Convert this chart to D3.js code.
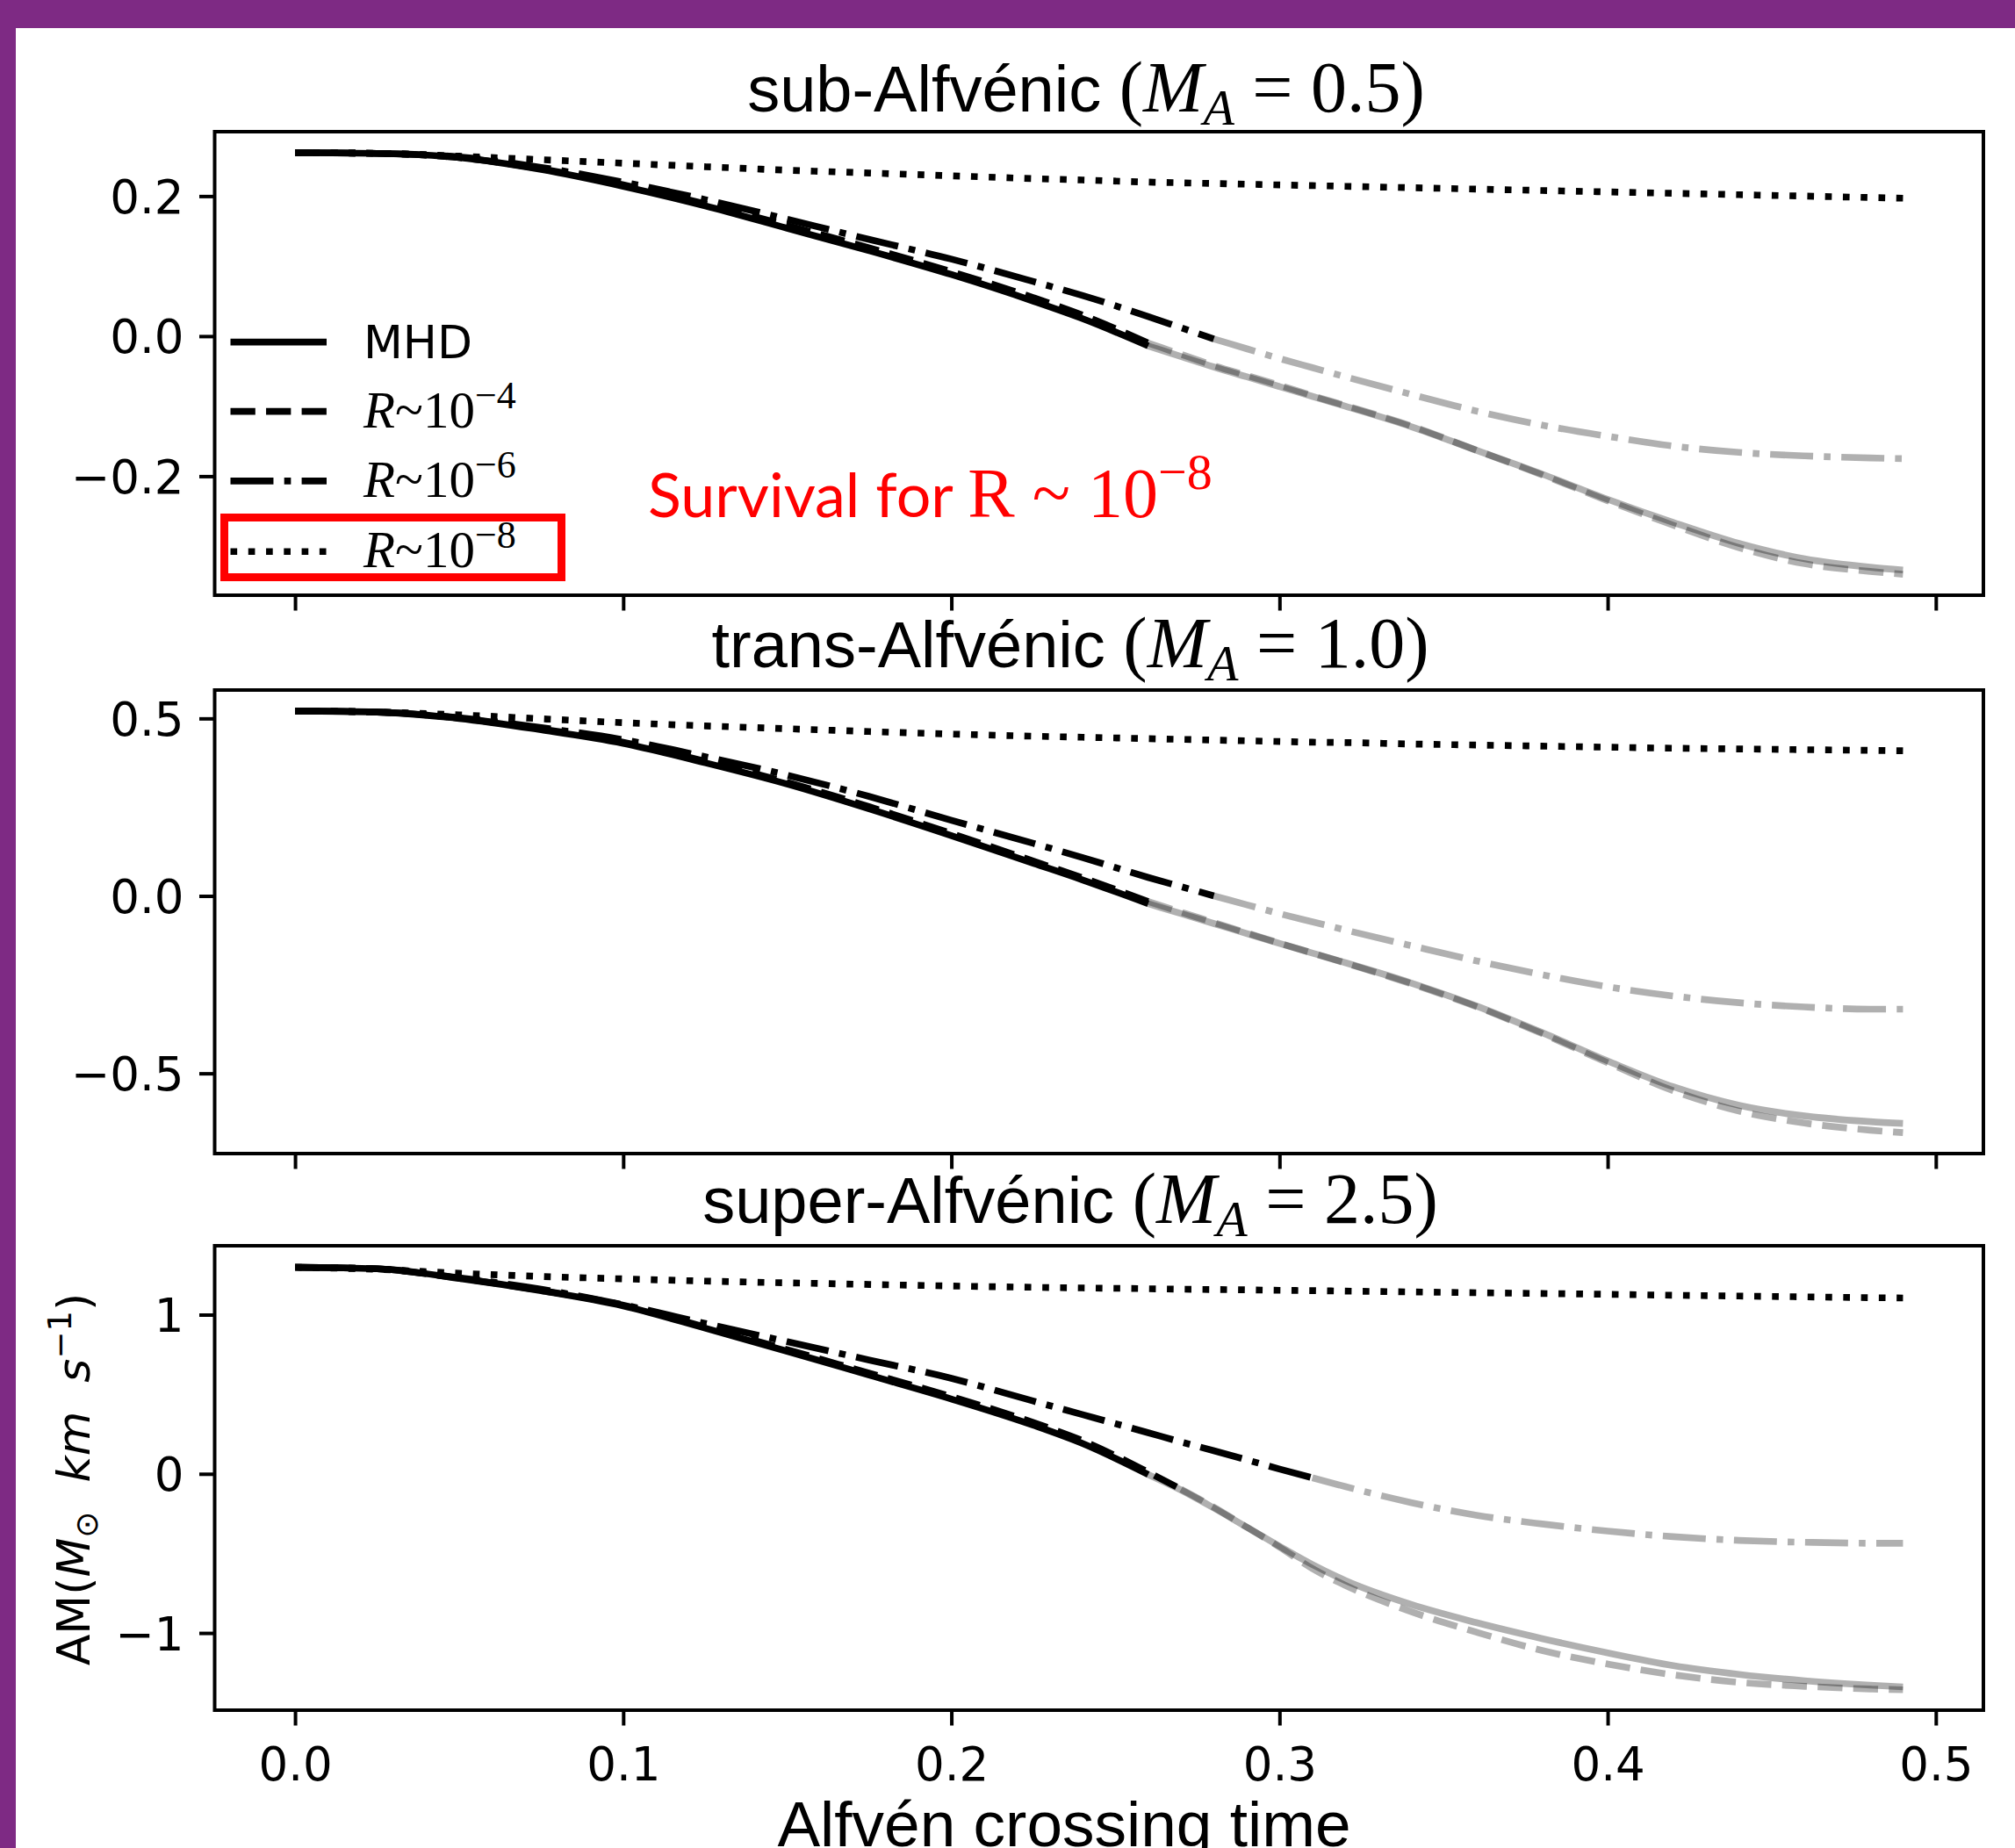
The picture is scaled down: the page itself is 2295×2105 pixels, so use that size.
<!DOCTYPE html>
<html>
<head>
<meta charset="utf-8">
<script src="https://cdnjs.cloudflare.com/ajax/libs/d3/7.8.5/d3.min.js"></script>
<style>
	body { margin: 0; background: #fff; }
	svg { display: block; }
	text { white-space: pre; }
	.tick text { font-family: "DejaVu Sans", sans-serif; font-size: 53px; fill: #000; }
	.tick line { stroke: #000; stroke-width: 4px; }
</style>
</head>
<body>
<div id="chart"></div>
<script>

///////////////////////////////////////////////////////////////////////////
//////////////////////////////// The data /////////////////////////////////
///////////////////////////////////////////////////////////////////////////

//Alfvén crossing time at which every run was sampled
var timeSteps = [0, 0.025, 0.05, 0.075, 0.10, 0.125, 0.15, 0.175, 0.20, 0.225, 0.24, 0.26, 0.27,
	0.28, 0.29, 0.30, 0.31, 0.32, 0.34, 0.36, 0.38, 0.40, 0.42, 0.44, 0.46, 0.48, 0.49];

//sub-Alfvénic (M_A = 0.5)
var subMHD = [0.262, 0.261, 0.255, 0.238, 0.214, 0.186, 0.154, 0.122, 0.088, 0.050, 0.025, -0.014, -0.029,
	-0.044, -0.058, -0.072, -0.086, -0.100, -0.129, -0.163, -0.197, -0.233, -0.266, -0.296, -0.318, -0.330, -0.334];
var subR4 = [0.262, 0.261, 0.255, 0.239, 0.216, 0.189, 0.158, 0.126, 0.092, 0.055, 0.030, -0.010, -0.026,
	-0.042, -0.056, -0.070, -0.085, -0.099, -0.128, -0.163, -0.198, -0.235, -0.270, -0.302, -0.325, -0.336, -0.340];
var subR6 = [0.262, 0.261, 0.256, 0.241, 0.220, 0.195, 0.167, 0.138, 0.110, 0.078, 0.058, 0.028, 0.012,
	-0.004, -0.018, -0.032, -0.045, -0.058, -0.083, -0.107, -0.127, -0.143, -0.157, -0.166, -0.171, -0.174, -0.175];
var subR8 = [0.262, 0.261, 0.257, 0.252, 0.247, 0.242, 0.237, 0.233, 0.229, 0.225, 0.223, 0.220, 0.219,
	0.218, 0.217, 0.216, 0.215, 0.214, 0.212, 0.210, 0.208, 0.206, 0.204, 0.202, 0.200, 0.198, 0.197];

//trans-Alfvénic (M_A = 1.0)
var transMHD = [0.521, 0.518, 0.500, 0.468, 0.430, 0.375, 0.315, 0.245, 0.170, 0.092, 0.045, -0.022, -0.050,
	-0.078, -0.106, -0.134, -0.161, -0.188, -0.245, -0.310, -0.385, -0.465, -0.538, -0.590, -0.620, -0.636, -0.641];
var transR4 = [0.521, 0.518, 0.501, 0.470, 0.433, 0.379, 0.320, 0.251, 0.176, 0.098, 0.051, -0.016, -0.046,
	-0.075, -0.104, -0.133, -0.161, -0.189, -0.247, -0.312, -0.388, -0.470, -0.549, -0.606, -0.640, -0.660, -0.667];
var transR6 = [0.521, 0.518, 0.502, 0.474, 0.440, 0.392, 0.340, 0.280, 0.213, 0.148, 0.108, 0.052, 0.026,
	0.000, -0.025, -0.050, -0.073, -0.096, -0.140, -0.183, -0.222, -0.256, -0.282, -0.301, -0.313, -0.319, -0.319];
var transR8 = [0.521, 0.518, 0.510, 0.499, 0.488, 0.479, 0.471, 0.463, 0.456, 0.450, 0.447, 0.443, 0.441,
	0.439, 0.437, 0.435, 0.433, 0.432, 0.428, 0.425, 0.422, 0.419, 0.416, 0.414, 0.412, 0.410, 0.409];

//super-Alfvénic (M_A = 2.5)
var superMHD = [1.298, 1.288, 1.228, 1.150, 1.055, 0.915, 0.770, 0.620, 0.470, 0.305, 0.190, -0.005, -0.102,
	-0.215, -0.335, -0.455, -0.570, -0.670, -0.820, -0.935, -1.035, -1.125, -1.205, -1.260, -1.300, -1.328, -1.339];
var superR4 = [1.298, 1.288, 1.229, 1.152, 1.060, 0.922, 0.780, 0.632, 0.485, 0.322, 0.208, 0.010, -0.097,
	-0.210, -0.335, -0.460, -0.595, -0.700, -0.865, -0.995, -1.110, -1.195, -1.263, -1.310, -1.335, -1.352, -1.357];
var superR6 = [1.298, 1.288, 1.232, 1.160, 1.062, 0.945, 0.830, 0.715, 0.600, 0.457, 0.372, 0.258, 0.200,
	0.145, 0.088, 0.030, -0.025, -0.080, -0.180, -0.260, -0.315, -0.360, -0.395, -0.418, -0.430, -0.436, -0.436];
var superR8 = [1.298, 1.285, 1.260, 1.240, 1.225, 1.211, 1.200, 1.190, 1.180, 1.172, 1.168, 1.163, 1.160,
	1.158, 1.156, 1.153, 1.151, 1.148, 1.143, 1.138, 1.133, 1.128, 1.122, 1.117, 1.112, 1.107, 1.105];

//Time after which each run is drawn faded (MHD, R~1e-4, R~1e-6, R~1e-8 never fades)
var cutSub = [0.26, 0.26, 0.28, 1];
var cutTrans = [0.26, 0.26, 0.28, 1];
var cutSuper = [0.26, 0.27, 0.31, 1];

var panelNames = ["sub-Alfvénic ", "trans-Alfvénic ", "super-Alfvénic "];
var machNumbers = ["0.5", "1.0", "2.5"];
var seriesNames = ["MHD", "R", "R", "R"];
var seriesExponents = ["", "−4", "−6", "−8"];

var xTickValues = [0, 0.1, 0.2, 0.3, 0.4, 0.5];
var xTickLabels = ["0.0", "0.1", "0.2", "0.3", "0.4", "0.5"];
var yTickValues = [[-0.2, 0, 0.2], [-0.5, 0, 0.5], [-1, 0, 1]];
var yTickLabels = [["−0.2", "0.0", "0.2"], ["−0.5", "0.0", "0.5"], ["−1", "0", "1"]];

///////////////////////////////////////////////////////////////////////////
//////////////////////////// Set up the SVG ///////////////////////////////
///////////////////////////////////////////////////////////////////////////

var width = 2295,
	height = 2105;

var svg = d3.select("#chart").append("svg")
	.attr("width", width)
	.attr("height", height);

svg.append("rect").attr("width", width).attr("height", height).style("fill", "#fff");

//purple slide border
svg.append("rect").attr("x", 0).attr("y", 0).attr("width", width).attr("height", 32).style("fill", "#7e2a84");
svg.append("rect").attr("x", 0).attr("y", 0).attr("width", 18).attr("height", height).style("fill", "#7e2a84");

var plotLeft = 244.5,
	plotRight = 2259;

var xScale = d3.scaleLinear()
	.domain([-0.0245, 0.5145])
	.range([plotLeft, plotRight]);

var lw = 7.65;
var dashes = [null, [3.7 * lw, 1.6 * lw], [6.4 * lw, 1.6 * lw, lw, 1.6 * lw], [lw, 1.65 * lw]];

var panels = [
	{ series: [subMHD, subR4, subR6, subR8], cuts: cutSub, domain: [-0.370, 0.292], top: 150, bottom: 678, titleX: 1237, titleY: 127 },
	{ series: [transMHD, transR4, transR6, transR8], cuts: cutTrans, domain: [-0.726, 0.580], top: 786, bottom: 1314, titleX: 1219, titleY: 760 },
	{ series: [superMHD, superR4, superR6, superR8], cuts: cutSuper, domain: [-1.485, 1.433], top: 1419, bottom: 1948, titleX: 1219, titleY: 1393 }
];

///////////////////////////////////////////////////////////////////////////
///////////////////////////// Draw the panels /////////////////////////////
///////////////////////////////////////////////////////////////////////////

panels.forEach(function(p, pi) {

	var yScale = d3.scaleLinear()
		.domain(p.domain)
		.range([p.bottom, p.top]);

	var line = d3.line()
		.x(function(d) { return xScale(d.t); })
		.y(function(d) { return yScale(d.v); })
		.curve(d3.curveMonotoneX);

	var g = svg.append("g").attr("class", "panel");

	//faded part first, black part on top
	p.series.forEach(function(vals, si) {
		var pts = timeSteps.map(function(t, i) { return { t: t, v: vals[i] }; });
		var cut = p.cuts[si];
		var faded = pts.filter(function(d) { return d.t >= cut - 1e-9; });
		var early = pts.filter(function(d) { return d.t <= cut + 1e-9; });

		if (faded.length > 1) {
			g.append("path")
				.attr("d", line(faded))
				.style("fill", "none")
				.style("stroke", "#000")
				.style("stroke-opacity", 0.31)
				.style("stroke-width", lw)
				.style("stroke-dasharray", dashes[si] ? dashes[si].join(",") : null);
		}
		g.append("path")
			.datum(early)
			.attr("d", line)
			.style("fill", "none")
			.style("stroke", "#000")
			.style("stroke-width", lw)
			.style("stroke-linejoin", "round")
			.style("stroke-dasharray", dashes[si] ? dashes[si].join(",") : null);
	});

	//axes
	svg.append("g")
		.attr("transform", "translate(" + plotLeft + ",0)")
		.call(d3.axisLeft(yScale)
			.tickValues(yTickValues[pi])
			.tickFormat(function(d, i) { return yTickLabels[pi][i]; })
			.tickSize(17.5).tickPadding(17.5).tickSizeOuter(0))
		.call(function(a) { a.select(".domain").remove(); })
		.selectAll("text").attr("dy", "0.36em");

	var xAxis = svg.append("g")
		.attr("transform", "translate(0," + p.bottom + ")")
		.call(d3.axisBottom(xScale)
			.tickValues(xTickValues)
			.tickFormat(function(d, i) { return pi === 2 ? xTickLabels[i] : ""; })
			.tickSize(17.5).tickPadding(17.5).tickSizeOuter(0))
		.call(function(a) { a.select(".domain").remove(); });
	xAxis.selectAll("text").attr("dy", "0.84em");

	//frame
	svg.append("rect")
		.attr("x", plotLeft)
		.attr("y", p.top)
		.attr("width", plotRight - plotLeft)
		.attr("height", p.bottom - p.top)
		.style("fill", "none")
		.style("stroke", "#000")
		.style("stroke-width", 4);

	//title
	var title = svg.append("text")
		.attr("x", p.titleX)
		.attr("y", p.titleY)
		.attr("text-anchor", "middle")
		.style("font-size", "74px")
		.style("fill", "#000");
	title.append("tspan").style("font-family", "Liberation Sans, Arial, sans-serif").text(panelNames[pi]);
	title.append("tspan").style("font-family", "Liberation Serif, serif").style("font-size", "82px").text("(");
	title.append("tspan").style("font-family", "Liberation Serif, serif").style("font-style", "italic")
		.style("font-size", "82px").text("M");
	title.append("tspan").style("font-family", "Liberation Serif, serif").style("font-style", "italic")
		.style("font-size", "58px").attr("dy", 15).text("A");
	title.append("tspan").style("font-family", "Liberation Serif, serif").style("font-size", "82px").attr("dy", -15)
		.text(" = " + machNumbers[pi] + ")");
});

///////////////////////////////////////////////////////////////////////////
/////////////////////////////// Axis labels ///////////////////////////////
///////////////////////////////////////////////////////////////////////////

svg.append("text")
	.attr("x", 1212)
	.attr("y", 2103)
	.attr("text-anchor", "middle")
	.style("font-family", "Liberation Sans, Arial, sans-serif")
	.style("font-size", "73px")
	.text("Alfvén crossing time");

var yLabel = svg.append("text")
	.attr("transform", "translate(102,1685) rotate(-90)")
	.attr("text-anchor", "middle")
	.style("font-family", "DejaVu Sans, sans-serif")
	.style("font-size", "52px");
yLabel.append("tspan").text("AM(");
yLabel.append("tspan").style("font-style", "italic").text("M");
yLabel.append("tspan").style("font-size", "36px").attr("dy", 9).text("⊙");
yLabel.append("tspan").style("font-style", "italic").attr("dy", -9).text("  km  s");
yLabel.append("tspan").style("font-size", "37px").attr("dy", -21).text("−1");
yLabel.append("tspan").attr("dy", 21).text(")");

///////////////////////////////////////////////////////////////////////////
///////////////////////////////// Legend //////////////////////////////////
///////////////////////////////////////////////////////////////////////////

var legendRowY = [389.6, 468.6, 547.9, 628.2];

var legend = svg.append("g").attr("class", "legend");

legend.selectAll(".legend-line")
	.data(seriesNames)
	.enter().append("line")
	.attr("class", "legend-line")
	.attr("x1", 262.5)
	.attr("x2", 372)
	.attr("y1", function(d, i) { return legendRowY[i]; })
	.attr("y2", function(d, i) { return legendRowY[i]; })
	.style("stroke", "#000")
	.style("stroke-width", lw)
	.style("stroke-dasharray", function(d, i) { return dashes[i] ? dashes[i].join(",") : null; });

seriesNames.forEach(function(name, i) {
	var t = legend.append("text")
		.attr("x", 414)
		.attr("y", legendRowY[i] + 18);
	if (i === 0) {
		t.style("font-family", "DejaVu Sans, sans-serif").style("font-size", "52px").text(name);
	} else {
		t.style("font-family", "Liberation Serif, serif").style("font-size", "59px");
		t.append("tspan").style("font-style", "italic").text(name);
		t.append("tspan").text("~10");
		t.append("tspan").style("font-size", "44px").attr("dy", -22).text(seriesExponents[i]);
	}
});

//red highlight
svg.append("rect")
	.attr("x", 255.5)
	.attr("y", 589.5)
	.attr("width", 384)
	.attr("height", 68)
	.style("fill", "none")
	.style("stroke", "#ff0000")
	.style("stroke-width", 9);

var note = svg.append("text")
	.attr("x", 738)
	.attr("y", 589)
	.style("fill", "#ff0000");
note.append("tspan").style("font-family", "Lato, sans-serif").style("font-size", "70px").text("Survival for ");
note.append("tspan").style("font-family", "Liberation Serif, serif").style("font-size", "80px").text("R ~ 10");
note.append("tspan").style("font-family", "Liberation Serif, serif").style("font-size", "58px").attr("dy", -32).text("−8");

</script>
</body>
</html>
